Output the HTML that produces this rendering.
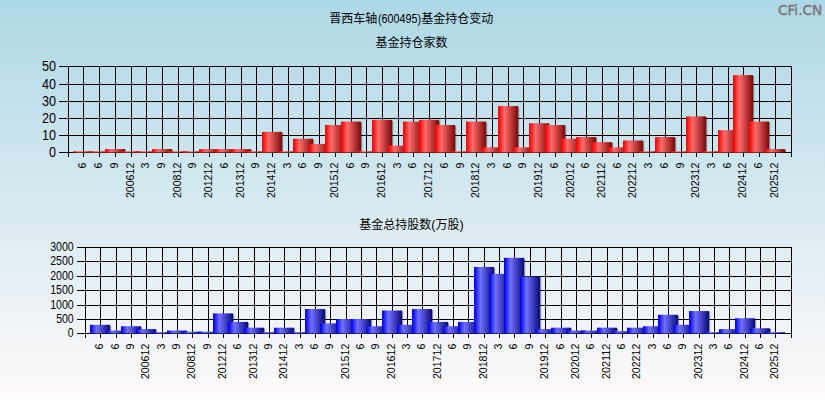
<!DOCTYPE html>
<html lang="zh"><head><meta charset="utf-8"><title>晋西车轴(600495)基金持仓变动</title>
<style>
html,body{margin:0;padding:0;background:#fffafa;}
body{width:825px;height:400px;overflow:hidden;}
svg{display:block;}
text{font-family:"Liberation Sans","Noto Sans CJK SC",sans-serif;fill:#000;}
.t{font-size:12px;}
.n{font-size:11.5px;}
</style></head><body>
<svg width="825" height="400" viewBox="0 0 825 400">
<defs>
<linearGradient id="bg" x1="0" y1="0" x2="0" y2="1"><stop offset="0" stop-color="#add8e6"/><stop offset="1" stop-color="#fffafa"/></linearGradient>
<linearGradient id="r" x1="0" y1="0" x2="1" y2="0"><stop offset="0" stop-color="#ff0000"/><stop offset="0.05" stop-color="#ff0808"/><stop offset="0.32" stop-color="#ff6c6c"/><stop offset="1" stop-color="#7c0808"/></linearGradient>
<linearGradient id="b" x1="0" y1="0" x2="1" y2="0"><stop offset="0" stop-color="#0000ff"/><stop offset="0.05" stop-color="#0808ff"/><stop offset="0.32" stop-color="#7070ff"/><stop offset="1" stop-color="#08087c"/></linearGradient>
</defs>
<rect width="825" height="400" fill="url(#bg)"/>

<path d="M59 66.5H792M59 84.5H792M59 101.5H792M59 118.5H792M59 135.5H792M59 152.5H792M68.5 66V157M83.5 66V157M99.5 66V157M115.5 66V157M131.5 66V157M146.5 66V157M162.5 66V157M178.5 66V157M193.5 66V157M209.5 66V157M225.5 66V157M241.5 66V157M256.5 66V157M272.5 66V157M288.5 66V157M303.5 66V157M319.5 66V157M335.5 66V157M351.5 66V157M366.5 66V157M382.5 66V157M398.5 66V157M413.5 66V157M429.5 66V157M445.5 66V157M461.5 66V157M476.5 66V157M492.5 66V157M508.5 66V157M523.5 66V157M539.5 66V157M555.5 66V157M571.5 66V157M586.5 66V157M602.5 66V157M618.5 66V157M633.5 66V157M649.5 66V157M665.5 66V157M681.5 66V157M696.5 66V157M712.5 66V157M728.5 66V157M743.5 66V157M759.5 66V157M775.5 66V157M791.5 66V157" stroke="#000" stroke-width="1" fill="none" shape-rendering="crispEdges"/>
<text x="56" y="71.00" text-anchor="end" font-size="14" textLength="14.0" lengthAdjust="spacingAndGlyphs">50</text>
<text x="56" y="89.00" text-anchor="end" font-size="14" textLength="14.0" lengthAdjust="spacingAndGlyphs">40</text>
<text x="56" y="106.00" text-anchor="end" font-size="14" textLength="14.0" lengthAdjust="spacingAndGlyphs">30</text>
<text x="56" y="123.00" text-anchor="end" font-size="14" textLength="14.0" lengthAdjust="spacingAndGlyphs">20</text>
<text x="56" y="140.00" text-anchor="end" font-size="14" textLength="14.0" lengthAdjust="spacingAndGlyphs">10</text>
<text x="56" y="157.00" text-anchor="end" font-size="14" textLength="7.0" lengthAdjust="spacingAndGlyphs">0</text>
<rect x="74.20" y="152.10" width="20.00" height="0.40" fill="#000" opacity="0.4"/>
<rect x="73.00" y="151.30" width="20.00" height="1.20" fill="url(#r)"/>
<rect x="90.20" y="152.10" width="20.00" height="0.40" fill="#000" opacity="0.4"/>
<rect x="89.00" y="151.30" width="20.00" height="1.20" fill="url(#r)"/>
<rect x="106.20" y="149.86" width="20.00" height="2.64" fill="#000" opacity="0.4"/>
<rect x="105.00" y="149.06" width="20.00" height="3.44" fill="url(#r)"/>
<rect x="122.20" y="152.10" width="20.00" height="0.40" fill="#000" opacity="0.4"/>
<rect x="121.00" y="151.30" width="20.00" height="1.20" fill="url(#r)"/>
<rect x="137.20" y="152.10" width="20.00" height="0.40" fill="#000" opacity="0.4"/>
<rect x="136.00" y="151.30" width="20.00" height="1.20" fill="url(#r)"/>
<rect x="153.20" y="149.86" width="20.00" height="2.64" fill="#000" opacity="0.4"/>
<rect x="152.00" y="149.06" width="20.00" height="3.44" fill="url(#r)"/>
<rect x="169.20" y="152.10" width="20.00" height="0.40" fill="#000" opacity="0.4"/>
<rect x="168.00" y="151.30" width="20.00" height="1.20" fill="url(#r)"/>
<rect x="184.20" y="152.10" width="20.00" height="0.40" fill="#000" opacity="0.4"/>
<rect x="183.00" y="151.30" width="20.00" height="1.20" fill="url(#r)"/>
<rect x="200.20" y="149.86" width="20.00" height="2.64" fill="#000" opacity="0.4"/>
<rect x="199.00" y="149.06" width="20.00" height="3.44" fill="url(#r)"/>
<rect x="216.20" y="149.86" width="20.00" height="2.64" fill="#000" opacity="0.4"/>
<rect x="215.00" y="149.06" width="20.00" height="3.44" fill="url(#r)"/>
<rect x="232.20" y="149.86" width="20.00" height="2.64" fill="#000" opacity="0.4"/>
<rect x="231.00" y="149.06" width="20.00" height="3.44" fill="url(#r)"/>
<rect x="247.20" y="152.10" width="20.00" height="0.40" fill="#000" opacity="0.4"/>
<rect x="246.00" y="151.30" width="20.00" height="1.20" fill="url(#r)"/>
<rect x="263.20" y="132.66" width="20.00" height="19.84" fill="#000" opacity="0.4"/>
<rect x="262.00" y="131.86" width="20.00" height="20.64" fill="url(#r)"/>
<rect x="279.20" y="152.10" width="20.00" height="0.40" fill="#000" opacity="0.4"/>
<rect x="278.00" y="151.30" width="20.00" height="1.20" fill="url(#r)"/>
<rect x="294.20" y="139.54" width="20.00" height="12.96" fill="#000" opacity="0.4"/>
<rect x="293.00" y="138.74" width="20.00" height="13.76" fill="url(#r)"/>
<rect x="310.20" y="144.70" width="20.00" height="7.80" fill="#000" opacity="0.4"/>
<rect x="309.00" y="143.90" width="20.00" height="8.60" fill="url(#r)"/>
<rect x="326.20" y="125.78" width="20.00" height="26.72" fill="#000" opacity="0.4"/>
<rect x="325.00" y="124.98" width="20.00" height="27.52" fill="url(#r)"/>
<rect x="342.20" y="122.34" width="20.00" height="30.16" fill="#000" opacity="0.4"/>
<rect x="341.00" y="121.54" width="20.00" height="30.96" fill="url(#r)"/>
<rect x="357.20" y="152.10" width="20.00" height="0.40" fill="#000" opacity="0.4"/>
<rect x="356.00" y="151.30" width="20.00" height="1.20" fill="url(#r)"/>
<rect x="373.20" y="120.62" width="20.00" height="31.88" fill="#000" opacity="0.4"/>
<rect x="372.00" y="119.82" width="20.00" height="32.68" fill="url(#r)"/>
<rect x="389.20" y="146.42" width="20.00" height="6.08" fill="#000" opacity="0.4"/>
<rect x="388.00" y="145.62" width="20.00" height="6.88" fill="url(#r)"/>
<rect x="404.20" y="122.34" width="20.00" height="30.16" fill="#000" opacity="0.4"/>
<rect x="403.00" y="121.54" width="20.00" height="30.96" fill="url(#r)"/>
<rect x="420.20" y="120.62" width="20.00" height="31.88" fill="#000" opacity="0.4"/>
<rect x="419.00" y="119.82" width="20.00" height="32.68" fill="url(#r)"/>
<rect x="436.20" y="125.78" width="20.00" height="26.72" fill="#000" opacity="0.4"/>
<rect x="435.00" y="124.98" width="20.00" height="27.52" fill="url(#r)"/>
<rect x="452.20" y="152.10" width="20.00" height="0.40" fill="#000" opacity="0.4"/>
<rect x="451.00" y="151.30" width="20.00" height="1.20" fill="url(#r)"/>
<rect x="467.20" y="122.34" width="20.00" height="30.16" fill="#000" opacity="0.4"/>
<rect x="466.00" y="121.54" width="20.00" height="30.96" fill="url(#r)"/>
<rect x="483.20" y="148.14" width="20.00" height="4.36" fill="#000" opacity="0.4"/>
<rect x="482.00" y="147.34" width="20.00" height="5.16" fill="url(#r)"/>
<rect x="499.20" y="106.86" width="20.00" height="45.64" fill="#000" opacity="0.4"/>
<rect x="498.00" y="106.06" width="20.00" height="46.44" fill="url(#r)"/>
<rect x="514.20" y="148.14" width="20.00" height="4.36" fill="#000" opacity="0.4"/>
<rect x="513.00" y="147.34" width="20.00" height="5.16" fill="url(#r)"/>
<rect x="530.20" y="124.06" width="20.00" height="28.44" fill="#000" opacity="0.4"/>
<rect x="529.00" y="123.26" width="20.00" height="29.24" fill="url(#r)"/>
<rect x="546.20" y="125.78" width="20.00" height="26.72" fill="#000" opacity="0.4"/>
<rect x="545.00" y="124.98" width="20.00" height="27.52" fill="url(#r)"/>
<rect x="562.20" y="139.54" width="20.00" height="12.96" fill="#000" opacity="0.4"/>
<rect x="561.00" y="138.74" width="20.00" height="13.76" fill="url(#r)"/>
<rect x="577.20" y="137.82" width="20.00" height="14.68" fill="#000" opacity="0.4"/>
<rect x="576.00" y="137.02" width="20.00" height="15.48" fill="url(#r)"/>
<rect x="593.20" y="142.98" width="20.00" height="9.52" fill="#000" opacity="0.4"/>
<rect x="592.00" y="142.18" width="20.00" height="10.32" fill="url(#r)"/>
<rect x="609.20" y="148.14" width="20.00" height="4.36" fill="#000" opacity="0.4"/>
<rect x="608.00" y="147.34" width="20.00" height="5.16" fill="url(#r)"/>
<rect x="624.20" y="141.26" width="20.00" height="11.24" fill="#000" opacity="0.4"/>
<rect x="623.00" y="140.46" width="20.00" height="12.04" fill="url(#r)"/>
<rect x="640.20" y="152.10" width="20.00" height="0.40" fill="#000" opacity="0.4"/>
<rect x="639.00" y="151.30" width="20.00" height="1.20" fill="url(#r)"/>
<rect x="656.20" y="137.82" width="20.00" height="14.68" fill="#000" opacity="0.4"/>
<rect x="655.00" y="137.02" width="20.00" height="15.48" fill="url(#r)"/>
<rect x="672.20" y="152.10" width="20.00" height="0.40" fill="#000" opacity="0.4"/>
<rect x="671.00" y="151.30" width="20.00" height="1.20" fill="url(#r)"/>
<rect x="687.20" y="117.18" width="20.00" height="35.32" fill="#000" opacity="0.4"/>
<rect x="686.00" y="116.38" width="20.00" height="36.12" fill="url(#r)"/>
<rect x="703.20" y="152.10" width="20.00" height="0.40" fill="#000" opacity="0.4"/>
<rect x="702.00" y="151.30" width="20.00" height="1.20" fill="url(#r)"/>
<rect x="719.20" y="130.94" width="20.00" height="21.56" fill="#000" opacity="0.4"/>
<rect x="718.00" y="130.14" width="20.00" height="22.36" fill="url(#r)"/>
<rect x="734.20" y="75.90" width="20.00" height="76.60" fill="#000" opacity="0.4"/>
<rect x="733.00" y="75.10" width="20.00" height="77.40" fill="url(#r)"/>
<rect x="750.20" y="122.34" width="20.00" height="30.16" fill="#000" opacity="0.4"/>
<rect x="749.00" y="121.54" width="20.00" height="30.96" fill="url(#r)"/>
<rect x="766.20" y="149.86" width="20.00" height="2.64" fill="#000" opacity="0.4"/>
<rect x="765.00" y="149.06" width="20.00" height="3.44" fill="url(#r)"/>
<text class="n" transform="translate(86.00 162.70) rotate(-90)" text-anchor="end" textLength="5.9" lengthAdjust="spacingAndGlyphs">6</text>
<text class="n" transform="translate(102.00 162.70) rotate(-90)" text-anchor="end" textLength="5.9" lengthAdjust="spacingAndGlyphs">6</text>
<text class="n" transform="translate(118.00 162.70) rotate(-90)" text-anchor="end" textLength="5.9" lengthAdjust="spacingAndGlyphs">9</text>
<text class="n" transform="translate(134.00 162.70) rotate(-90)" text-anchor="end" textLength="35.4" lengthAdjust="spacingAndGlyphs">200612</text>
<text class="n" transform="translate(149.00 162.70) rotate(-90)" text-anchor="end" textLength="5.9" lengthAdjust="spacingAndGlyphs">3</text>
<text class="n" transform="translate(165.00 162.70) rotate(-90)" text-anchor="end" textLength="5.9" lengthAdjust="spacingAndGlyphs">9</text>
<text class="n" transform="translate(181.00 162.70) rotate(-90)" text-anchor="end" textLength="35.4" lengthAdjust="spacingAndGlyphs">200812</text>
<text class="n" transform="translate(196.00 162.70) rotate(-90)" text-anchor="end" textLength="5.9" lengthAdjust="spacingAndGlyphs">9</text>
<text class="n" transform="translate(212.00 162.70) rotate(-90)" text-anchor="end" textLength="35.4" lengthAdjust="spacingAndGlyphs">201212</text>
<text class="n" transform="translate(228.00 162.70) rotate(-90)" text-anchor="end" textLength="5.9" lengthAdjust="spacingAndGlyphs">6</text>
<text class="n" transform="translate(244.00 162.70) rotate(-90)" text-anchor="end" textLength="35.4" lengthAdjust="spacingAndGlyphs">201312</text>
<text class="n" transform="translate(259.00 162.70) rotate(-90)" text-anchor="end" textLength="5.9" lengthAdjust="spacingAndGlyphs">9</text>
<text class="n" transform="translate(275.00 162.70) rotate(-90)" text-anchor="end" textLength="35.4" lengthAdjust="spacingAndGlyphs">201412</text>
<text class="n" transform="translate(291.00 162.70) rotate(-90)" text-anchor="end" textLength="5.9" lengthAdjust="spacingAndGlyphs">3</text>
<text class="n" transform="translate(306.00 162.70) rotate(-90)" text-anchor="end" textLength="5.9" lengthAdjust="spacingAndGlyphs">6</text>
<text class="n" transform="translate(322.00 162.70) rotate(-90)" text-anchor="end" textLength="5.9" lengthAdjust="spacingAndGlyphs">9</text>
<text class="n" transform="translate(338.00 162.70) rotate(-90)" text-anchor="end" textLength="35.4" lengthAdjust="spacingAndGlyphs">201512</text>
<text class="n" transform="translate(354.00 162.70) rotate(-90)" text-anchor="end" textLength="5.9" lengthAdjust="spacingAndGlyphs">6</text>
<text class="n" transform="translate(369.00 162.70) rotate(-90)" text-anchor="end" textLength="5.9" lengthAdjust="spacingAndGlyphs">9</text>
<text class="n" transform="translate(385.00 162.70) rotate(-90)" text-anchor="end" textLength="35.4" lengthAdjust="spacingAndGlyphs">201612</text>
<text class="n" transform="translate(401.00 162.70) rotate(-90)" text-anchor="end" textLength="5.9" lengthAdjust="spacingAndGlyphs">3</text>
<text class="n" transform="translate(416.00 162.70) rotate(-90)" text-anchor="end" textLength="5.9" lengthAdjust="spacingAndGlyphs">6</text>
<text class="n" transform="translate(432.00 162.70) rotate(-90)" text-anchor="end" textLength="35.4" lengthAdjust="spacingAndGlyphs">201712</text>
<text class="n" transform="translate(448.00 162.70) rotate(-90)" text-anchor="end" textLength="5.9" lengthAdjust="spacingAndGlyphs">6</text>
<text class="n" transform="translate(464.00 162.70) rotate(-90)" text-anchor="end" textLength="5.9" lengthAdjust="spacingAndGlyphs">9</text>
<text class="n" transform="translate(479.00 162.70) rotate(-90)" text-anchor="end" textLength="35.4" lengthAdjust="spacingAndGlyphs">201812</text>
<text class="n" transform="translate(495.00 162.70) rotate(-90)" text-anchor="end" textLength="5.9" lengthAdjust="spacingAndGlyphs">3</text>
<text class="n" transform="translate(511.00 162.70) rotate(-90)" text-anchor="end" textLength="5.9" lengthAdjust="spacingAndGlyphs">6</text>
<text class="n" transform="translate(526.00 162.70) rotate(-90)" text-anchor="end" textLength="5.9" lengthAdjust="spacingAndGlyphs">9</text>
<text class="n" transform="translate(542.00 162.70) rotate(-90)" text-anchor="end" textLength="35.4" lengthAdjust="spacingAndGlyphs">201912</text>
<text class="n" transform="translate(558.00 162.70) rotate(-90)" text-anchor="end" textLength="5.9" lengthAdjust="spacingAndGlyphs">6</text>
<text class="n" transform="translate(574.00 162.70) rotate(-90)" text-anchor="end" textLength="35.4" lengthAdjust="spacingAndGlyphs">202012</text>
<text class="n" transform="translate(589.00 162.70) rotate(-90)" text-anchor="end" textLength="5.9" lengthAdjust="spacingAndGlyphs">6</text>
<text class="n" transform="translate(605.00 162.70) rotate(-90)" text-anchor="end" textLength="35.4" lengthAdjust="spacingAndGlyphs">202112</text>
<text class="n" transform="translate(621.00 162.70) rotate(-90)" text-anchor="end" textLength="5.9" lengthAdjust="spacingAndGlyphs">6</text>
<text class="n" transform="translate(636.00 162.70) rotate(-90)" text-anchor="end" textLength="35.4" lengthAdjust="spacingAndGlyphs">202212</text>
<text class="n" transform="translate(652.00 162.70) rotate(-90)" text-anchor="end" textLength="5.9" lengthAdjust="spacingAndGlyphs">3</text>
<text class="n" transform="translate(668.00 162.70) rotate(-90)" text-anchor="end" textLength="5.9" lengthAdjust="spacingAndGlyphs">6</text>
<text class="n" transform="translate(684.00 162.70) rotate(-90)" text-anchor="end" textLength="5.9" lengthAdjust="spacingAndGlyphs">9</text>
<text class="n" transform="translate(699.00 162.70) rotate(-90)" text-anchor="end" textLength="35.4" lengthAdjust="spacingAndGlyphs">202312</text>
<text class="n" transform="translate(715.00 162.70) rotate(-90)" text-anchor="end" textLength="5.9" lengthAdjust="spacingAndGlyphs">3</text>
<text class="n" transform="translate(731.00 162.70) rotate(-90)" text-anchor="end" textLength="5.9" lengthAdjust="spacingAndGlyphs">6</text>
<text class="n" transform="translate(746.00 162.70) rotate(-90)" text-anchor="end" textLength="35.4" lengthAdjust="spacingAndGlyphs">202412</text>
<text class="n" transform="translate(762.00 162.70) rotate(-90)" text-anchor="end" textLength="5.9" lengthAdjust="spacingAndGlyphs">6</text>
<text class="n" transform="translate(778.00 162.70) rotate(-90)" text-anchor="end" textLength="35.4" lengthAdjust="spacingAndGlyphs">202512</text>
<path d="M77 247.5H792M77 261.5H792M77 276.5H792M77 290.5H792M77 305.5H792M77 319.5H792M77 333.5H792M85.5 247V338M100.5 247V338M116.5 247V338M131.5 247V338M146.5 247V338M162.5 247V338M177.5 247V338M192.5 247V338M208.5 247V338M223.5 247V338M238.5 247V338M254.5 247V338M269.5 247V338M284.5 247V338M300.5 247V338M315.5 247V338M330.5 247V338M346.5 247V338M361.5 247V338M376.5 247V338M392.5 247V338M407.5 247V338M422.5 247V338M438.5 247V338M453.5 247V338M468.5 247V338M484.5 247V338M499.5 247V338M514.5 247V338M530.5 247V338M545.5 247V338M561.5 247V338M576.5 247V338M591.5 247V338M607.5 247V338M622.5 247V338M637.5 247V338M653.5 247V338M668.5 247V338M683.5 247V338M699.5 247V338M714.5 247V338M729.5 247V338M745.5 247V338M760.5 247V338M775.5 247V338M791.5 247V338" stroke="#000" stroke-width="1" fill="none" shape-rendering="crispEdges"/>
<text x="73.75" y="251.10" text-anchor="end" font-size="13" textLength="23.5" lengthAdjust="spacingAndGlyphs">3000</text>
<text x="73.75" y="265.10" text-anchor="end" font-size="13" textLength="23.5" lengthAdjust="spacingAndGlyphs">2500</text>
<text x="73.75" y="280.10" text-anchor="end" font-size="13" textLength="23.5" lengthAdjust="spacingAndGlyphs">2000</text>
<text x="73.75" y="294.10" text-anchor="end" font-size="13" textLength="23.5" lengthAdjust="spacingAndGlyphs">1500</text>
<text x="73.75" y="309.10" text-anchor="end" font-size="13" textLength="23.5" lengthAdjust="spacingAndGlyphs">1000</text>
<text x="73.75" y="323.10" text-anchor="end" font-size="13" textLength="17.6" lengthAdjust="spacingAndGlyphs">500</text>
<text x="73.75" y="337.10" text-anchor="end" font-size="13" textLength="5.9" lengthAdjust="spacingAndGlyphs">0</text>
<rect x="91.20" y="325.61" width="20.00" height="7.79" fill="#000" opacity="0.4"/>
<rect x="90.00" y="324.81" width="20.00" height="8.59" fill="url(#b)"/>
<rect x="107.20" y="331.34" width="20.00" height="2.06" fill="#000" opacity="0.4"/>
<rect x="106.00" y="330.54" width="20.00" height="2.86" fill="url(#b)"/>
<rect x="122.20" y="327.04" width="20.00" height="6.36" fill="#000" opacity="0.4"/>
<rect x="121.00" y="326.24" width="20.00" height="7.16" fill="url(#b)"/>
<rect x="137.20" y="329.90" width="20.00" height="3.49" fill="#000" opacity="0.4"/>
<rect x="136.00" y="329.10" width="20.00" height="4.29" fill="url(#b)"/>
<rect x="153.20" y="333.00" width="20.00" height="0.40" fill="#000" opacity="0.4"/>
<rect x="152.00" y="332.20" width="20.00" height="1.20" fill="url(#b)"/>
<rect x="168.20" y="331.34" width="20.00" height="2.06" fill="#000" opacity="0.4"/>
<rect x="167.00" y="330.54" width="20.00" height="2.86" fill="url(#b)"/>
<rect x="183.20" y="332.48" width="20.00" height="0.92" fill="#000" opacity="0.4"/>
<rect x="182.00" y="331.68" width="20.00" height="1.72" fill="url(#b)"/>
<rect x="199.20" y="332.48" width="20.00" height="0.92" fill="#000" opacity="0.4"/>
<rect x="198.00" y="331.68" width="20.00" height="1.72" fill="url(#b)"/>
<rect x="214.20" y="314.16" width="20.00" height="19.24" fill="#000" opacity="0.4"/>
<rect x="213.00" y="313.36" width="20.00" height="20.04" fill="url(#b)"/>
<rect x="229.20" y="322.75" width="20.00" height="10.65" fill="#000" opacity="0.4"/>
<rect x="228.00" y="321.95" width="20.00" height="11.45" fill="url(#b)"/>
<rect x="245.20" y="328.47" width="20.00" height="4.93" fill="#000" opacity="0.4"/>
<rect x="244.00" y="327.67" width="20.00" height="5.73" fill="url(#b)"/>
<rect x="260.20" y="333.00" width="20.00" height="0.40" fill="#000" opacity="0.4"/>
<rect x="259.00" y="332.20" width="20.00" height="1.20" fill="url(#b)"/>
<rect x="275.20" y="328.47" width="20.00" height="4.93" fill="#000" opacity="0.4"/>
<rect x="274.00" y="327.67" width="20.00" height="5.73" fill="url(#b)"/>
<rect x="291.20" y="333.00" width="20.00" height="0.40" fill="#000" opacity="0.4"/>
<rect x="290.00" y="332.20" width="20.00" height="1.20" fill="url(#b)"/>
<rect x="306.20" y="309.86" width="20.00" height="23.54" fill="#000" opacity="0.4"/>
<rect x="305.00" y="309.06" width="20.00" height="24.34" fill="url(#b)"/>
<rect x="321.20" y="324.18" width="20.00" height="9.22" fill="#000" opacity="0.4"/>
<rect x="320.00" y="323.38" width="20.00" height="10.02" fill="url(#b)"/>
<rect x="337.20" y="319.88" width="20.00" height="13.52" fill="#000" opacity="0.4"/>
<rect x="336.00" y="319.08" width="20.00" height="14.32" fill="url(#b)"/>
<rect x="352.20" y="319.88" width="20.00" height="13.52" fill="#000" opacity="0.4"/>
<rect x="351.00" y="319.08" width="20.00" height="14.32" fill="url(#b)"/>
<rect x="367.20" y="327.04" width="20.00" height="6.36" fill="#000" opacity="0.4"/>
<rect x="366.00" y="326.24" width="20.00" height="7.16" fill="url(#b)"/>
<rect x="383.20" y="311.29" width="20.00" height="22.11" fill="#000" opacity="0.4"/>
<rect x="382.00" y="310.49" width="20.00" height="22.91" fill="url(#b)"/>
<rect x="398.20" y="325.61" width="20.00" height="7.79" fill="#000" opacity="0.4"/>
<rect x="397.00" y="324.81" width="20.00" height="8.59" fill="url(#b)"/>
<rect x="413.20" y="309.86" width="20.00" height="23.54" fill="#000" opacity="0.4"/>
<rect x="412.00" y="309.06" width="20.00" height="24.34" fill="url(#b)"/>
<rect x="429.20" y="322.75" width="20.00" height="10.65" fill="#000" opacity="0.4"/>
<rect x="428.00" y="321.95" width="20.00" height="11.45" fill="url(#b)"/>
<rect x="444.20" y="327.04" width="20.00" height="6.36" fill="#000" opacity="0.4"/>
<rect x="443.00" y="326.24" width="20.00" height="7.16" fill="url(#b)"/>
<rect x="459.20" y="322.75" width="20.00" height="10.65" fill="#000" opacity="0.4"/>
<rect x="458.00" y="321.95" width="20.00" height="11.45" fill="url(#b)"/>
<rect x="475.20" y="267.77" width="20.00" height="65.63" fill="#000" opacity="0.4"/>
<rect x="474.00" y="266.97" width="20.00" height="66.43" fill="url(#b)"/>
<rect x="490.20" y="274.64" width="20.00" height="58.76" fill="#000" opacity="0.4"/>
<rect x="489.00" y="273.84" width="20.00" height="59.56" fill="url(#b)"/>
<rect x="505.20" y="258.61" width="20.00" height="74.79" fill="#000" opacity="0.4"/>
<rect x="504.00" y="257.81" width="20.00" height="75.59" fill="url(#b)"/>
<rect x="521.20" y="277.36" width="20.00" height="56.04" fill="#000" opacity="0.4"/>
<rect x="520.00" y="276.56" width="20.00" height="56.84" fill="url(#b)"/>
<rect x="536.20" y="329.90" width="20.00" height="3.49" fill="#000" opacity="0.4"/>
<rect x="535.00" y="329.10" width="20.00" height="4.29" fill="url(#b)"/>
<rect x="552.20" y="328.47" width="20.00" height="4.93" fill="#000" opacity="0.4"/>
<rect x="551.00" y="327.67" width="20.00" height="5.73" fill="url(#b)"/>
<rect x="567.20" y="331.34" width="20.00" height="2.06" fill="#000" opacity="0.4"/>
<rect x="566.00" y="330.54" width="20.00" height="2.86" fill="url(#b)"/>
<rect x="582.20" y="331.34" width="20.00" height="2.06" fill="#000" opacity="0.4"/>
<rect x="581.00" y="330.54" width="20.00" height="2.86" fill="url(#b)"/>
<rect x="598.20" y="328.47" width="20.00" height="4.93" fill="#000" opacity="0.4"/>
<rect x="597.00" y="327.67" width="20.00" height="5.73" fill="url(#b)"/>
<rect x="613.20" y="331.91" width="20.00" height="1.49" fill="#000" opacity="0.4"/>
<rect x="612.00" y="331.11" width="20.00" height="2.29" fill="url(#b)"/>
<rect x="628.20" y="328.47" width="20.00" height="4.93" fill="#000" opacity="0.4"/>
<rect x="627.00" y="327.67" width="20.00" height="5.73" fill="url(#b)"/>
<rect x="644.20" y="327.04" width="20.00" height="6.36" fill="#000" opacity="0.4"/>
<rect x="643.00" y="326.24" width="20.00" height="7.16" fill="url(#b)"/>
<rect x="659.20" y="315.59" width="20.00" height="17.81" fill="#000" opacity="0.4"/>
<rect x="658.00" y="314.79" width="20.00" height="18.61" fill="url(#b)"/>
<rect x="674.20" y="325.61" width="20.00" height="7.79" fill="#000" opacity="0.4"/>
<rect x="673.00" y="324.81" width="20.00" height="8.59" fill="url(#b)"/>
<rect x="690.20" y="311.87" width="20.00" height="21.53" fill="#000" opacity="0.4"/>
<rect x="689.00" y="311.07" width="20.00" height="22.33" fill="url(#b)"/>
<rect x="705.20" y="333.00" width="20.00" height="0.40" fill="#000" opacity="0.4"/>
<rect x="704.00" y="332.20" width="20.00" height="1.20" fill="url(#b)"/>
<rect x="720.20" y="329.90" width="20.00" height="3.49" fill="#000" opacity="0.4"/>
<rect x="719.00" y="329.10" width="20.00" height="4.29" fill="url(#b)"/>
<rect x="736.20" y="319.02" width="20.00" height="14.38" fill="#000" opacity="0.4"/>
<rect x="735.00" y="318.22" width="20.00" height="15.18" fill="url(#b)"/>
<rect x="751.20" y="329.05" width="20.00" height="4.35" fill="#000" opacity="0.4"/>
<rect x="750.00" y="328.25" width="20.00" height="5.15" fill="url(#b)"/>
<rect x="766.20" y="333.00" width="20.00" height="0.40" fill="#000" opacity="0.4"/>
<rect x="765.00" y="332.20" width="20.00" height="1.20" fill="url(#b)"/>
<text class="n" transform="translate(103.00 343.70) rotate(-90)" text-anchor="end" textLength="5.9" lengthAdjust="spacingAndGlyphs">6</text>
<text class="n" transform="translate(119.00 343.70) rotate(-90)" text-anchor="end" textLength="5.9" lengthAdjust="spacingAndGlyphs">6</text>
<text class="n" transform="translate(134.00 343.70) rotate(-90)" text-anchor="end" textLength="5.9" lengthAdjust="spacingAndGlyphs">9</text>
<text class="n" transform="translate(149.00 343.70) rotate(-90)" text-anchor="end" textLength="35.4" lengthAdjust="spacingAndGlyphs">200612</text>
<text class="n" transform="translate(165.00 343.70) rotate(-90)" text-anchor="end" textLength="5.9" lengthAdjust="spacingAndGlyphs">3</text>
<text class="n" transform="translate(180.00 343.70) rotate(-90)" text-anchor="end" textLength="5.9" lengthAdjust="spacingAndGlyphs">9</text>
<text class="n" transform="translate(195.00 343.70) rotate(-90)" text-anchor="end" textLength="35.4" lengthAdjust="spacingAndGlyphs">200812</text>
<text class="n" transform="translate(211.00 343.70) rotate(-90)" text-anchor="end" textLength="5.9" lengthAdjust="spacingAndGlyphs">9</text>
<text class="n" transform="translate(226.00 343.70) rotate(-90)" text-anchor="end" textLength="35.4" lengthAdjust="spacingAndGlyphs">201212</text>
<text class="n" transform="translate(241.00 343.70) rotate(-90)" text-anchor="end" textLength="5.9" lengthAdjust="spacingAndGlyphs">6</text>
<text class="n" transform="translate(257.00 343.70) rotate(-90)" text-anchor="end" textLength="35.4" lengthAdjust="spacingAndGlyphs">201312</text>
<text class="n" transform="translate(272.00 343.70) rotate(-90)" text-anchor="end" textLength="5.9" lengthAdjust="spacingAndGlyphs">9</text>
<text class="n" transform="translate(287.00 343.70) rotate(-90)" text-anchor="end" textLength="35.4" lengthAdjust="spacingAndGlyphs">201412</text>
<text class="n" transform="translate(303.00 343.70) rotate(-90)" text-anchor="end" textLength="5.9" lengthAdjust="spacingAndGlyphs">3</text>
<text class="n" transform="translate(318.00 343.70) rotate(-90)" text-anchor="end" textLength="5.9" lengthAdjust="spacingAndGlyphs">6</text>
<text class="n" transform="translate(333.00 343.70) rotate(-90)" text-anchor="end" textLength="5.9" lengthAdjust="spacingAndGlyphs">9</text>
<text class="n" transform="translate(349.00 343.70) rotate(-90)" text-anchor="end" textLength="35.4" lengthAdjust="spacingAndGlyphs">201512</text>
<text class="n" transform="translate(364.00 343.70) rotate(-90)" text-anchor="end" textLength="5.9" lengthAdjust="spacingAndGlyphs">6</text>
<text class="n" transform="translate(379.00 343.70) rotate(-90)" text-anchor="end" textLength="5.9" lengthAdjust="spacingAndGlyphs">9</text>
<text class="n" transform="translate(395.00 343.70) rotate(-90)" text-anchor="end" textLength="35.4" lengthAdjust="spacingAndGlyphs">201612</text>
<text class="n" transform="translate(410.00 343.70) rotate(-90)" text-anchor="end" textLength="5.9" lengthAdjust="spacingAndGlyphs">3</text>
<text class="n" transform="translate(425.00 343.70) rotate(-90)" text-anchor="end" textLength="5.9" lengthAdjust="spacingAndGlyphs">6</text>
<text class="n" transform="translate(441.00 343.70) rotate(-90)" text-anchor="end" textLength="35.4" lengthAdjust="spacingAndGlyphs">201712</text>
<text class="n" transform="translate(456.00 343.70) rotate(-90)" text-anchor="end" textLength="5.9" lengthAdjust="spacingAndGlyphs">6</text>
<text class="n" transform="translate(471.00 343.70) rotate(-90)" text-anchor="end" textLength="5.9" lengthAdjust="spacingAndGlyphs">9</text>
<text class="n" transform="translate(487.00 343.70) rotate(-90)" text-anchor="end" textLength="35.4" lengthAdjust="spacingAndGlyphs">201812</text>
<text class="n" transform="translate(502.00 343.70) rotate(-90)" text-anchor="end" textLength="5.9" lengthAdjust="spacingAndGlyphs">3</text>
<text class="n" transform="translate(517.00 343.70) rotate(-90)" text-anchor="end" textLength="5.9" lengthAdjust="spacingAndGlyphs">6</text>
<text class="n" transform="translate(533.00 343.70) rotate(-90)" text-anchor="end" textLength="5.9" lengthAdjust="spacingAndGlyphs">9</text>
<text class="n" transform="translate(548.00 343.70) rotate(-90)" text-anchor="end" textLength="35.4" lengthAdjust="spacingAndGlyphs">201912</text>
<text class="n" transform="translate(564.00 343.70) rotate(-90)" text-anchor="end" textLength="5.9" lengthAdjust="spacingAndGlyphs">6</text>
<text class="n" transform="translate(579.00 343.70) rotate(-90)" text-anchor="end" textLength="35.4" lengthAdjust="spacingAndGlyphs">202012</text>
<text class="n" transform="translate(594.00 343.70) rotate(-90)" text-anchor="end" textLength="5.9" lengthAdjust="spacingAndGlyphs">6</text>
<text class="n" transform="translate(610.00 343.70) rotate(-90)" text-anchor="end" textLength="35.4" lengthAdjust="spacingAndGlyphs">202112</text>
<text class="n" transform="translate(625.00 343.70) rotate(-90)" text-anchor="end" textLength="5.9" lengthAdjust="spacingAndGlyphs">6</text>
<text class="n" transform="translate(640.00 343.70) rotate(-90)" text-anchor="end" textLength="35.4" lengthAdjust="spacingAndGlyphs">202212</text>
<text class="n" transform="translate(656.00 343.70) rotate(-90)" text-anchor="end" textLength="5.9" lengthAdjust="spacingAndGlyphs">3</text>
<text class="n" transform="translate(671.00 343.70) rotate(-90)" text-anchor="end" textLength="5.9" lengthAdjust="spacingAndGlyphs">6</text>
<text class="n" transform="translate(686.00 343.70) rotate(-90)" text-anchor="end" textLength="5.9" lengthAdjust="spacingAndGlyphs">9</text>
<text class="n" transform="translate(702.00 343.70) rotate(-90)" text-anchor="end" textLength="35.4" lengthAdjust="spacingAndGlyphs">202312</text>
<text class="n" transform="translate(717.00 343.70) rotate(-90)" text-anchor="end" textLength="5.9" lengthAdjust="spacingAndGlyphs">3</text>
<text class="n" transform="translate(732.00 343.70) rotate(-90)" text-anchor="end" textLength="5.9" lengthAdjust="spacingAndGlyphs">6</text>
<text class="n" transform="translate(748.00 343.70) rotate(-90)" text-anchor="end" textLength="35.4" lengthAdjust="spacingAndGlyphs">202412</text>
<text class="n" transform="translate(763.00 343.70) rotate(-90)" text-anchor="end" textLength="5.9" lengthAdjust="spacingAndGlyphs">6</text>
<text class="n" transform="translate(778.00 343.70) rotate(-90)" text-anchor="end" textLength="35.4" lengthAdjust="spacingAndGlyphs">202512</text>
<text class="t" x="329.3" y="22.6">晋西车轴</text>
<text x="378" y="22.6" font-size="12.5" textLength="43" lengthAdjust="spacingAndGlyphs">(600495)</text>
<text class="t" x="421.3" y="22.6">基金持仓变动</text>
<text class="t" x="411.5" y="47.4" text-anchor="middle">基金持仓家数</text>
<text class="t" x="411.5" y="229" text-anchor="middle">基金总持股数<tspan font-size="12.5">(</tspan>万股<tspan font-size="12.5">)</tspan></text>
<text x="778" y="14.8" font-size="14.7" style="font-family:DejaVu Sans,Liberation Sans,sans-serif;fill:#807878;stroke:#807878;stroke-width:0.45px" textLength="44.2" lengthAdjust="spacingAndGlyphs">CFi.CN</text>
</svg></body></html>
